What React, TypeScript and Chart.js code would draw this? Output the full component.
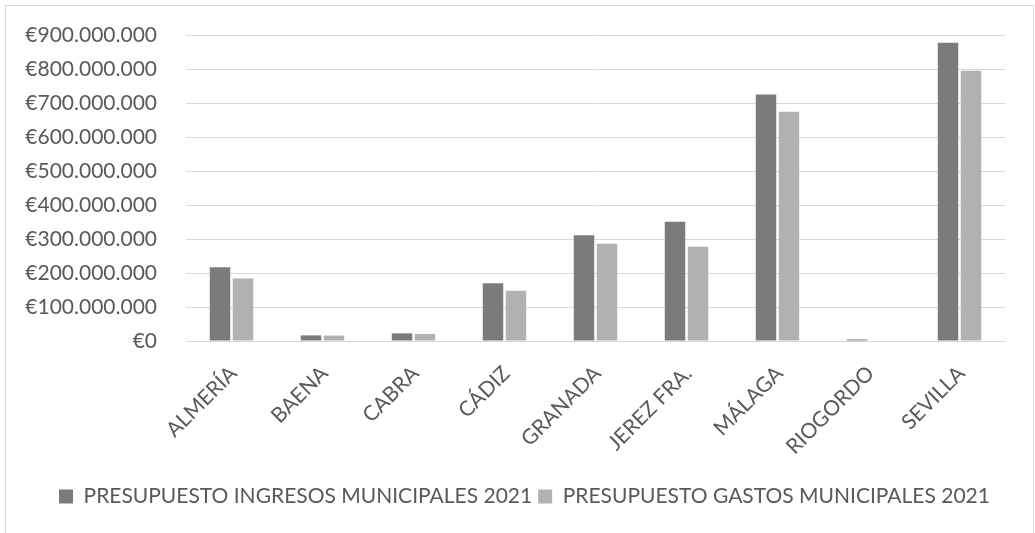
import React, { useEffect, useRef } from "react";
import { Chart, registerables } from "chart.js";

Chart.register(...registerables);

const municipios = [
  "ALMERÍA",
  "BAENA",
  "CABRA",
  "CÁDIZ",
  "GRANADA",
  "JEREZ FRA.",
  "MÁLAGA",
  "RIOGORDO",
  "SEVILLA",
];

const ingresos2021 = [
  217000000, 16500000, 22500000, 170000000, 311000000, 351000000, 725000000,
  4500000, 877000000,
];

const gastos2021 = [
  184000000, 16000000, 20500000, 148000000, 286000000, 277000000, 674000000,
  1500000, 795000000,
];

const serieIngresos = "PRESUPUESTO INGRESOS MUNICIPALES 2021";
const serieGastos = "PRESUPUESTO GASTOS MUNICIPALES 2021";

const FONT = "Lato, 'DejaVu Sans', sans-serif";
const TEXT = "#595959";
const GRID = "#d9d9d9";

function euros(v: number): string {
  const s = Math.round(v).toString().replace(/\B(?=(\d{3})+(?!\d))/g, ".");
  return "€" + s;
}

// White background and thin outer frame of the chart object
const frame = {
  id: "frame",
  beforeDraw(chart: any) {
    const { ctx, width, height } = chart;
    ctx.save();
    ctx.fillStyle = "#ffffff";
    ctx.fillRect(0, 0, width, height);
    ctx.strokeStyle = GRID;
    ctx.lineWidth = 1;
    ctx.strokeRect(5.5, 5.5, 1028, height + 20);
    ctx.restore();
  },
};

// Centre the legend row under the plot area rather than the whole canvas
const legendShift = {
  id: "legendShift",
  afterLayout(chart: any) {
    const lg = chart.legend;
    if (lg) {
      lg.left += 12;
      lg.right += 12;
    }
  },
};

export default function App() {
  const ref = useRef<HTMLCanvasElement | null>(null);

  useEffect(() => {
    if (!ref.current) return;
    const chart = new Chart(ref.current, {
      type: "bar",
      data: {
        labels: municipios,
        datasets: [
          {
            label: serieIngresos,
            data: ingresos2021,
            backgroundColor: "#7b7b7b",
            categoryPercentage: 0.505,
            barPercentage: 0.89,
          },
          {
            label: serieGastos,
            data: gastos2021,
            backgroundColor: "#b1b1b1",
            categoryPercentage: 0.505,
            barPercentage: 0.89,
          },
        ],
      },
      options: {
        responsive: false,
        animation: false,
        layout: { padding: { top: 35, right: 30, bottom: 16, left: 20 } },
        plugins: {
          legend: {
            position: "bottom",
            labels: {
              color: TEXT,
              boxWidth: 14,
              boxHeight: 14,
              padding: 6,
              font: { family: FONT, size: 21 },
            },
          },
          tooltip: { enabled: false },
        },
        scales: {
          x: {
            grid: { display: false, drawTicks: false },
            border: { color: GRID, width: 1 },
            ticks: {
              color: TEXT,
              font: { family: FONT, size: 21 },
              minRotation: 45,
              maxRotation: 45,
              padding: 20,
              labelOffset: 2,
            },
            afterFit(scale: any) {
              scale.height = 533 - 16 - 37 - 341;
            },
          },
          y: {
            min: 0,
            max: 900000000,
            border: { display: false },
            grid: {
              color: GRID,
              lineWidth: 1,
              drawTicks: true,
              tickLength: 29,
              tickColor: "rgba(0,0,0,0)",
            },
            ticks: {
              stepSize: 100000000,
              color: TEXT,
              font: { family: FONT, size: 21 },
              padding: 0,
              callback: (v: any) => euros(Number(v)),
            },
            afterFit(scale: any) {
              scale.width = 166;
            },
          },
        },
      },
      plugins: [frame, legendShift],
    });
    return () => chart.destroy();
  }, []);

  return (
    <div style={{ position: "absolute", left: 0, top: 0, width: 1035, height: 533 }}>
      <canvas ref={ref} width={1035} height={533} />
    </div>
  );
}
